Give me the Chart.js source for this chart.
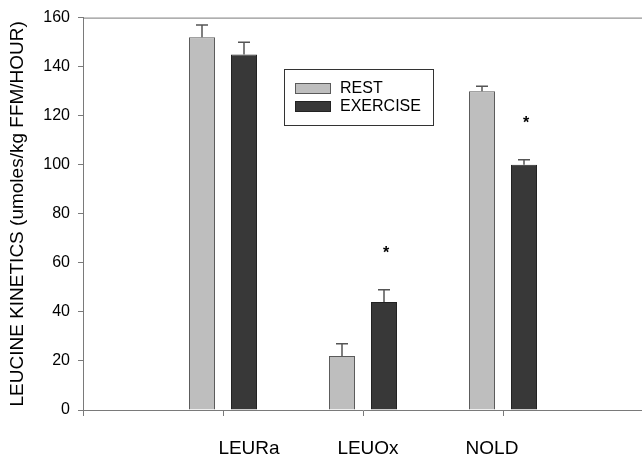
<!DOCTYPE html>
<html>
<head>
<meta charset="utf-8">
<script src="https://cdn.jsdelivr.net/npm/chart.js@4/dist/chart.umd.min.js"></script>
<style>
html, body { margin: 0; padding: 0; background: #fff; overflow: hidden; }
#wrap { position: relative; width: 650px; height: 458px; }
</style>
</head>
<body>
<div id="wrap"><canvas id="myChart" width="650" height="458"></canvas></div>
<script>
// data
const categories = ['LEURa', 'LEUOx', 'NOLD'];
const restValues = [152, 22, 130];
const restErrors = [5, 5, 2];
const exerciseValues = [145, 44, 100];
const exerciseErrors = [5, 5, 2];
const exerciseStars = [null, 65, 118];
const yTicks = [0, 20, 40, 60, 80, 100, 120, 140, 160];

// empty slot on each side of the groups
const labels = ['', ...categories, ''];
const pad = arr => [null, ...arr, null];

Chart.defaults.font.family = "'Liberation Sans', Arial, sans-serif";
Chart.defaults.color = '#000';

const axisColor = '#7a7a7a';

// error bars
const errorBars = {
	id: 'errorBars',
	afterDatasetsDraw(chart) {
		const ctx = chart.ctx;
		const y = chart.scales.y;
		chart.data.datasets.forEach((ds, di) => {
			const meta = chart.getDatasetMeta(di);
			meta.data.forEach((bar, i) => {
				const err = ds.errors[i];
				if (err == null || ds.data[i] == null) return;
				const top = y.getPixelForValue(ds.data[i] + err);
				ctx.save();
				ctx.strokeStyle = '#555';
				ctx.lineWidth = 1.5;
				ctx.beginPath();
				ctx.moveTo(bar.x, bar.y);
				ctx.lineTo(bar.x, top);
				ctx.moveTo(bar.x - 6, top);
				ctx.lineTo(bar.x + 6, top);
				ctx.stroke();
				// significance mark
				if (ds.stars && ds.stars[i] != null) {
					ctx.fillStyle = '#000';
					ctx.font = "bold 16px 'Liberation Sans', Arial, sans-serif";
					ctx.textAlign = 'center';
					ctx.textBaseline = 'middle';
					ctx.fillText('*', bar.x + 2, y.getPixelForValue(ds.stars[i]) + 3);
				}
				ctx.restore();
			});
		});
	}
};

// top line, category labels and boxed legend
const frame = {
	id: 'frame',
	afterDraw(chart, args, opts) {
		const ctx = chart.ctx;
		const area = chart.chartArea;
		const x = chart.scales.x;
		ctx.save();
		ctx.strokeStyle = axisColor;
		ctx.lineWidth = 1;
		ctx.beginPath();
		ctx.moveTo(area.left, area.top + 0.5);
		ctx.lineTo(area.right, area.top + 0.5);
		ctx.stroke();

		ctx.fillStyle = '#000';
		ctx.font = "19px 'Liberation Sans', Arial, sans-serif";
		ctx.textAlign = 'center';
		ctx.textBaseline = 'alphabetic';
		categories.forEach((c, i) => {
			ctx.fillText(c, x.getPixelForValue(i + 1) + opts.labelShift[i], 454);
		});

		// legend
		const lx = 284, ly = 69, lw = 149, lh = 56;
		ctx.strokeStyle = '#333';
		ctx.strokeRect(lx + 0.5, ly + 0.5, lw, lh);
		ctx.font = "16px 'Liberation Sans', Arial, sans-serif";
		ctx.textAlign = 'left';
		ctx.textBaseline = 'middle';
		chart.data.datasets.forEach((ds, i) => {
			const sy = ly + 14 + i * 18;
			ctx.fillStyle = ds.backgroundColor;
			ctx.fillRect(lx + 11, sy, 36, 11);
			ctx.strokeStyle = ds.borderColor;
			ctx.strokeRect(lx + 11.5, sy + 0.5, 35, 10);
			ctx.fillStyle = '#000';
			ctx.fillText(ds.label, lx + 56, sy + 5.5);
		});
		ctx.restore();
	}
};

const ctx = document.getElementById('myChart').getContext('2d');
new Chart(ctx, {
	type: 'bar',
	data: {
		labels: labels,
		datasets: [{
			label: 'REST',
			data: pad(restValues),
			errors: pad(restErrors),
			backgroundColor: '#bebebe',
			borderColor: '#5a5a5a',
			borderWidth: 1
		}, {
			label: 'EXERCISE',
			data: pad(exerciseValues),
			errors: pad(exerciseErrors),
			stars: pad(exerciseStars),
			backgroundColor: '#383838',
			borderColor: '#222',
			borderWidth: 1
		}]
	},
	options: {
		responsive: false,
		animation: false,
		categoryPercentage: 0.6,
		barPercentage: 0.62,
		layout: { padding: { top: 17, right: 7, left: 0, bottom: 0 } },
		plugins: {
			legend: { display: false },
			tooltip: { enabled: false },
			frame: { labelShift: [26, 5, -11] }
		},
		scales: {
			x: {
				offset: false,
				grid: {
					offset: false,
					drawOnChartArea: false,
					drawTicks: true,
					tickLength: 6,
					color: axisColor
				},
				border: { display: true, color: axisColor },
				ticks: { display: false },
				afterFit: s => { s.height = 48; }
			},
			y: {
				min: yTicks[0],
				max: yTicks[yTicks.length - 1],
				afterBuildTicks: s => { s.ticks = yTicks.map(v => ({ value: v })); },
				grid: {
					drawOnChartArea: false,
					drawTicks: true,
					tickLength: 5,
					color: axisColor
				},
				border: { display: true, color: axisColor },
				ticks: { padding: 8, font: { size: 16 }, color: '#000' },
				title: {
					display: true,
					text: 'LEUCINE KINETICS (umoles/kg FFM/HOUR)',
					font: { size: 19 },
					color: '#000',
					padding: { top: 6, bottom: 0 }
				},
				afterFit: s => { s.width = 83; }
			}
		}
	},
	plugins: [errorBars, frame]
});
</script>
</body>
</html>
